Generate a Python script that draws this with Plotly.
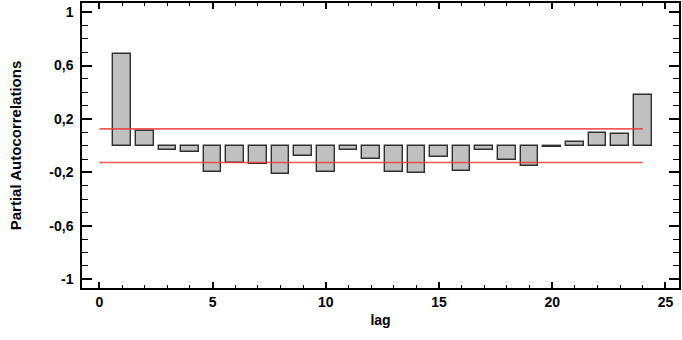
import plotly.graph_objects as go

lags = list(range(1, 25))
pacf = [0.69, 0.11, -0.032, -0.049, -0.194, -0.127, -0.139, -0.214, -0.077, -0.199,
        -0.032, -0.099, -0.194, -0.206, -0.082, -0.186, -0.032, -0.107, -0.149, -0.008,
        0.026, 0.098, 0.085, 0.38]
limit_x = [0, 24]
upper_limit = [0.126, 0.126]
lower_limit = [-0.126, -0.126]

y_tickvals = [1, 0.6, 0.2, -0.2, -0.6, -1]
y_ticktext = ["1", "0,6", "0,2", "-0,2", "-0,6", "-1"]
x_tickvals = [0, 5, 10, 15, 20, 25]
x_ticktext = ["0", "5", "10", "15", "20", "25"]

font = "Liberation Sans, Arial, sans-serif"

fig = go.Figure()
fig.add_trace(go.Bar(
    x=lags, y=pacf, width=0.78,
    marker=dict(color="#c0c0c0", line=dict(color="#303030", width=1.4)),
    showlegend=False,
))
for yy in (upper_limit, lower_limit):
    fig.add_trace(go.Scatter(
        x=limit_x, y=yy, mode="lines",
        line=dict(color="rgba(235,60,60,0.85)", width=1.6),
        showlegend=False, hoverinfo="skip",
    ))

fig.update_layout(
    width=682, height=340,
    margin=dict(l=82, r=1, t=3, b=52),
    paper_bgcolor="white", plot_bgcolor="white",
    font=dict(family=font, size=14, color="black"),
    bargap=0,
)
fig.update_xaxes(
    range=[-0.77, 25.6], showgrid=False, zeroline=False,
    showline=True, linecolor="black", linewidth=1.5, mirror="ticks",
    ticks="inside", ticklen=6, tickwidth=1.5, tickcolor="black",
    tickvals=x_tickvals, ticktext=x_ticktext,
    tickfont=dict(family=font, size=14, color="black", weight="bold"),
    minor=dict(ticks="inside", ticklen=3, dtick=1, tick0=0, tickwidth=1.2, tickcolor="black"),
    title=dict(text="<b>lag</b>", font=dict(family=font, size=14), standoff=7),
)
fig.update_yaxes(
    range=[-1.065, 1.068], showgrid=False, zeroline=False,
    showline=True, linecolor="black", linewidth=1.5, mirror="ticks",
    ticks="inside", ticklen=10, tickwidth=1.5, tickcolor="black",
    tickvals=y_tickvals, ticktext=y_ticktext,
    tickfont=dict(family=font, size=14, color="black", weight="bold"),
    minor=dict(ticks="inside", ticklen=6, dtick=0.1, tick0=0, tickwidth=1.2, tickcolor="black"),
    ticklabelstandoff=4,
    title=dict(text="<b>Partial Autocorrelations</b>", font=dict(family=font, size=15), standoff=24),
)

fig.write_html("out.html")
